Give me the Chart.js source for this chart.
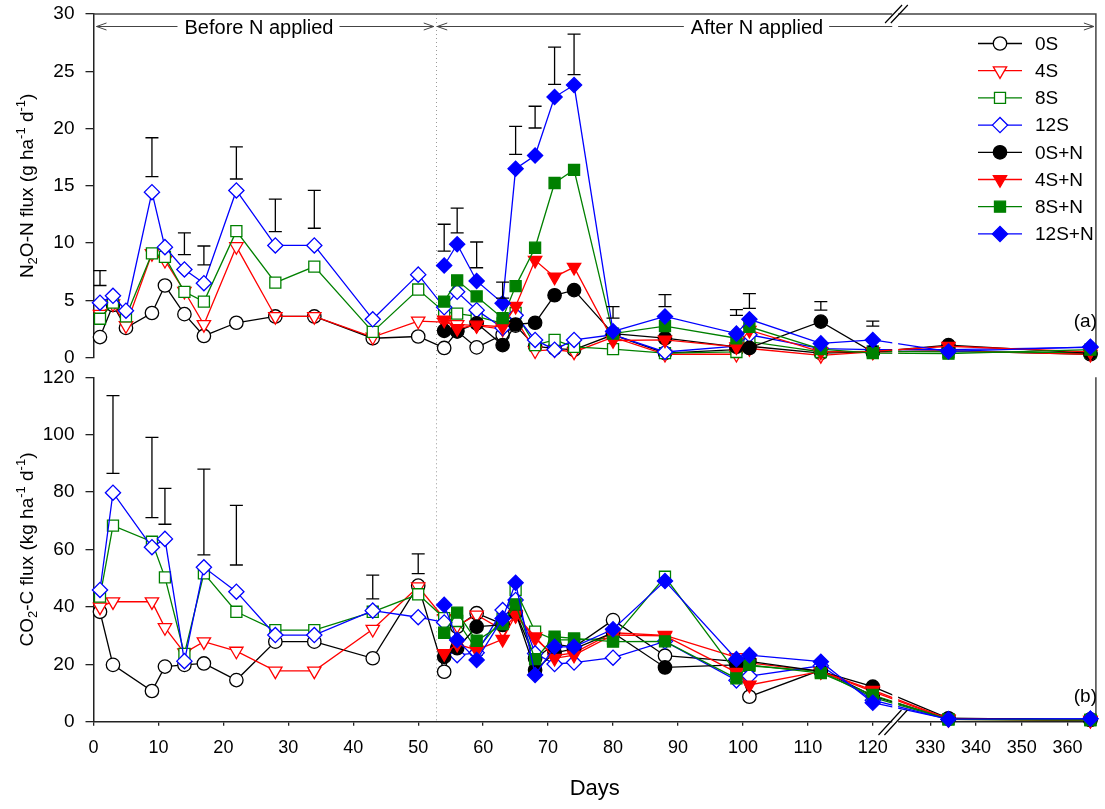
<!DOCTYPE html>
<html>
<head>
<meta charset="utf-8">
<title>N2O and CO2 flux</title>
<script src="https://cdn.jsdelivr.net/npm/chart.js@4.4.0/dist/chart.umd.min.js"></script>
<style>
  html, body { margin: 0; padding: 0; background: #fff; }
  #wrap { position: relative; width: 1105px; height: 809px; }
  #wrap canvas { position: absolute; left: 0; top: 0; }
</style>
</head>
<body>
<div id="wrap">
  <canvas id="n2oChart" width="1105" height="809"></canvas>
  <canvas id="co2Chart" width="1105" height="809"></canvas>
</div>
<script>
/* ---------- data ---------- */
var SERIES = ["0S", "4S", "8S", "12S", "0S+N", "4S+N", "8S+N", "12S+N"];

var N2O_DAYS = [1, 3, 5, 9, 11, 14, 17, 22, 28, 34, 43, 50, 54, 56, 59, 63, 65, 68, 71, 74, 80, 88, 99, 101, 112, 120, 334, 365];
var CO2_DAYS = [1, 3, 9, 11, 14, 17, 22, 28, 34, 43, 50, 54, 56, 59, 63, 65, 68, 71, 74, 80, 88, 99, 101, 112, 120, 334, 365];
var N_DAYS = [54, 56, 59, 63, 65, 68, 71, 74, 80, 88, 99, 101, 112, 120, 334, 365];

// N2O-N flux, g ha-1 d-1
var N2O_0S  = [1.8, 4.6, 2.6, 3.9, 6.3, 3.8, 1.9, 3.05, 3.6, 3.6, 1.7, 1.85, 0.85, 2.3, 0.9, 2.0, 2.8, 1.0, 0.8, 0.7, 2.0, 0.4, 0.7, 1.0, 0.4, 0.5, 0.6, 0.3];
var N2O_4S  = [3.8, 4.7, 2.8, 9.1, 8.5, 5.8, 2.9, 9.7, 3.6, 3.6, 1.8, 3.2, 3.1, 2.9, 2.8, 2.5, 3.4, 0.6, 0.7, 0.5, 1.8, 0.3, 0.3, 0.8, 0.2, 0.5, 0.6, 0.3];
var N2O_8S  = [3.4, 4.8, 3.6, 9.1, 8.8, 5.75, 4.9, 11.05, 6.55, 7.95, 2.25, 5.95, 4.0, 3.85, 3.6, 3.0, 3.9, 1.1, 1.55, 0.95, 0.75, 0.4, 0.5, 1.4, 0.5, 0.55, 0.5, 0.45];
var N2O_12S = [4.8, 5.4, 4.1, 14.45, 9.65, 7.7, 6.5, 14.6, 9.8, 9.8, 3.35, 7.25, 4.4, 5.75, 4.15, 2.6, 3.7, 1.55, 0.7, 1.55, 2.0, 0.5, 1.0, 2.0, 0.8, 0.7, 0.7, 0.9];
var N2O_0SN  = [2.35, 2.3, 3.0, 1.1, 2.9, 3.05, 5.45, 5.9, 2.1, 1.7, 0.95, 0.85, 3.15, 0.5, 1.1, 0.4];
var N2O_4SN  = [3.3, 2.55, 2.85, 2.7, 4.5, 8.5, 7.05, 7.9, 1.5, 1.55, 0.95, 2.4, 0.5, 0.55, 1.0, 0.5];
var N2O_8SN  = [4.9, 6.75, 5.35, 3.45, 6.25, 9.6, 15.25, 16.4, 2.1, 2.75, 1.7, 2.7, 0.75, 0.4, 0.35, 0.7];
var N2O_12SN = [8.05, 9.9, 6.7, 4.75, 16.5, 17.65, 22.75, 23.8, 2.3, 3.6, 2.1, 3.35, 1.25, 1.55, 0.55, 0.95];

var N2O_ERR_DAYS = [1, 9, 14, 17, 22, 28, 34, 54, 56, 59, 63, 65, 68, 71, 74, 80, 88, 99, 101, 112, 120];
var N2O_ERR_LO = [6.3, 15.8, 9.0, 8.1, 15.6, 11.0, 11.3, 9.3, 10.9, 7.85, 5.2, 17.75, 20.05, 23.85, 24.7, 3.45, 4.45, 3.7, 4.3, 4.15, 2.75];
var N2O_ERR_HI = [7.6, 19.2, 10.9, 9.75, 18.4, 13.85, 14.6, 11.65, 13.05, 10.1, 6.6, 20.2, 21.95, 27.1, 28.25, 4.45, 5.5, 4.2, 5.6, 4.9, 3.2];

// CO2-C flux, kg ha-1 d-1
var CO2_0S  = [38.3, 19.8, 10.7, 19.2, 19.8, 20.3, 14.5, 27.9, 27.9, 22.1, 47.4, 17.4, 33.1, 37.8, 34, 38, 22, 27, 26, 35.4, 23.0, 21, 8.7, 18, 9, 1.0, 0.8];
var CO2_4S  = [40, 41.8, 41.8, 32.8, 24, 27.9, 24.6, 17.7, 17.7, 32.2, 47, 36, 33.5, 37.2, 32, 37, 29, 23, 24, 31, 30.1, 22.4, 20.5, 17.5, 10.5, 0.8, 0.5];
var CO2_8S  = [43.6, 68.3, 62.7, 50.3, 23.6, 51.7, 38.3, 31.9, 31.9, 38.3, 44.4, 36.1, 35.1, 25, 36, 45.9, 31.4, 28.5, 28.5, 29, 50.5, 17, 19.5, 17.5, 8.5, 0.8, 0.6];
var CO2_12S = [45.9, 79.8, 60.8, 63.7, 21.1, 53.8, 45.3, 30.2, 30.2, 38.7, 36.4, 34.6, 23.2, 24, 38.9, 42.4, 23.8, 20.1, 20.6, 22.3, 28, 14.4, 15.9, 19.5, 7.5, 0.8, 1.0];
var CO2_0SN  = [22.6, 25.6, 33.1, 33.7, 38, 18, 24, 25.4, 31, 18.9, 19.8, 21, 17.5, 12.2, 1.2, 0.6];
var CO2_4SN  = [23.8, 27, 25, 28.7, 37.2, 29.6, 22.1, 23.2, 30.2, 29.9, 17.2, 12.8, 17.5, 11, 1.0, 0.5];
var CO2_8SN  = [31.0, 38.0, 28.2, 34, 40.9, 21.8, 29.6, 29.0, 27.9, 28, 15.1, 19.8, 16.9, 9.3, 0.8, 0.6];
var CO2_12SN = [40.7, 28.5, 21.5, 36.0, 48.4, 16.3, 26.1, 26.1, 32.2, 49.0, 21.8, 23.2, 20.9, 6.6, 0.9, 1.0];

var CO2_ERR_DAYS = [3, 9, 11, 17, 22, 43, 50];
var CO2_ERR_LO = [86.5, 71.1, 68.8, 58.1, 54.6, 42.8, 51.6];
var CO2_ERR_HI = [113.6, 99.1, 81.3, 88.0, 75.4, 51.1, 58.5];

var X_TICKS = [0, 10, 20, 30, 40, 50, 60, 70, 80, 90, 100, 110, 120, 330, 340, 350, 360];
var N_APPLIED_DAY = 52.7;

/* ---------- broken x axis ---------- */
var BREAK_LEFT_DAY = 123;   // first segment ends
var BREAK_RIGHT_DAY = 323;  // second segment starts
var BREAK_GAP = 0.9;        // blank axis units in the break
var RIGHT_COMPRESS = 0.705; // second segment is drawn narrower
var X_END_DAY = 366.2;

function toAxis(day) {
  if (day <= BREAK_LEFT_DAY) return day;
  return BREAK_LEFT_DAY + BREAK_GAP + (day - BREAK_RIGHT_DAY) * RIGHT_COMPRESS;
}

/* ---------- styles ---------- */
var FONT = '"Liberation Sans", Arial, Helvetica, sans-serif';
Chart.defaults.font.family = FONT;
Chart.defaults.color = "#000";

var STYLES = [
  { color: "#000000", shape: "circle",   rot: 0,   r: 6.7, filled: false },
  { color: "#ff0000", shape: "triangle", rot: 180, r: 7.7, filled: false },
  { color: "#008000", shape: "rect",     rot: 0,   r: 7.8, filled: false },
  { color: "#0000ff", shape: "rectRot",  rot: 0,   r: 7.6, filled: false },
  { color: "#000000", shape: "circle",   rot: 0,   r: 6.7, filled: true },
  { color: "#ff0000", shape: "triangle", rot: 180, r: 7.7, filled: true },
  { color: "#008000", shape: "rect",     rot: 0,   r: 7.8, filled: true },
  { color: "#0000ff", shape: "rectRot",  rot: 0,   r: 7.6, filled: true }
];
var AXIS_COLOR = "#222";

function makeDatasets(openDays, openSets, nSets) {
  var all = openSets.concat(nSets);
  return all.map(function (vals, i) {
    var days = i < 4 ? openDays : N_DAYS;
    var st = STYLES[i];
    return {
      label: SERIES[i],
      data: days.map(function (d, k) { return { x: toAxis(d), y: vals[k] }; }),
      borderColor: st.color,
      borderWidth: 1.3,
      pointStyle: st.shape,
      rotation: st.rot,
      pointRadius: st.r,
      pointBorderWidth: 1.3,
      pointBorderColor: st.color,
      pointBackgroundColor: st.filled ? st.color : "#ffffff",
      tension: 0,
      clip: false,
      order: 7 - i
    };
  });
}

function xScaleOptions(show) {
  return {
    type: "linear",
    display: show,
    min: 0,
    max: toAxis(X_END_DAY),
    afterBuildTicks: function (s) {
      s.ticks = X_TICKS.map(function (d) { return { value: toAxis(d) }; });
    },
    afterFit: function (s) {
      if (show) s.height = 809 - 721.7;
      s.paddingLeft = 0;
      s.paddingRight = 0;
    },
    ticks: {
      autoSkip: false, maxRotation: 0, padding: 12, font: { size: 18 },
      callback: function (v, i) { return X_TICKS[i]; }
    },
    grid: { drawOnChartArea: false, tickLength: 4, color: AXIS_COLOR, lineWidth: 1.3 },
    border: { color: AXIS_COLOR, width: 1.5 },
    title: { display: true, text: "Days", font: { size: 22 }, padding: { top: 0, bottom: 7 } }
  };
}

function yScaleOptions(max, step) {
  return {
    min: 0, max: max,
    ticks: { stepSize: step, padding: 11, font: { size: 19 } },
    grid: { drawOnChartArea: false, tickLength: 8, color: AXIS_COLOR, lineWidth: 1.3 },
    border: { color: AXIS_COLOR, width: 1.5 },
    afterFit: function (s) { s.width = 93.5; s.paddingTop = 0; s.paddingBottom = 0; }
  };
}

/* ---------- drawing helpers ---------- */
function drawErrorBars(chart, days, lo, hi) {
  var ctx = chart.ctx, xs = chart.scales.x, ys = chart.scales.y;
  ctx.save();
  ctx.strokeStyle = "#000";
  ctx.lineWidth = 1.3;
  days.forEach(function (d, i) {
    var x = xs.getPixelForValue(toAxis(d));
    var y0 = ys.getPixelForValue(lo[i]);
    var y1 = ys.getPixelForValue(hi[i]);
    ctx.beginPath();
    ctx.moveTo(x, y0); ctx.lineTo(x, y1);
    ctx.moveTo(x - 6.5, y0); ctx.lineTo(x + 6.5, y0);
    ctx.moveTo(x - 6.5, y1); ctx.lineTo(x + 6.5, y1);
    ctx.stroke();
  });
  ctx.restore();
}

function drawDotted(chart, y0, y1) {
  var ctx = chart.ctx;
  var x = Math.round(chart.scales.x.getPixelForValue(N_APPLIED_DAY)) + 0.5;
  ctx.save();
  ctx.strokeStyle = "#9a9a9a";
  ctx.lineWidth = 1;
  ctx.setLineDash([1, 3]);
  ctx.beginPath(); ctx.moveTo(x, y0); ctx.lineTo(x, y1); ctx.stroke();
  ctx.restore();
}

function breakPixels(chart) {
  var xs = chart.scales.x;
  return [xs.getPixelForValue(toAxis(BREAK_LEFT_DAY)), xs.getPixelForValue(toAxis(BREAK_LEFT_DAY) + BREAK_GAP)];
}

function drawSlashes(ctx, xs, y, hx, hy) {
  ctx.save();
  ctx.strokeStyle = "#000";
  ctx.lineWidth = 1.2;
  ctx.beginPath();
  xs.forEach(function (x) { ctx.moveTo(x - hx, y + hy); ctx.lineTo(x + hx, y - hy); });
  ctx.stroke();
  ctx.restore();
}

function drawVerticalTitle(ctx, parts, baseX, centerY, size) {
  var small = Math.round(size * 0.68);
  ctx.save();
  var widths = parts.map(function (p) {
    ctx.font = (p[1] ? small : size) + "px " + FONT;
    return ctx.measureText(p[0]).width;
  });
  var total = widths.reduce(function (a, b) { return a + b; }, 0);
  ctx.translate(baseX, centerY);
  ctx.rotate(-Math.PI / 2);
  ctx.fillStyle = "#000";
  ctx.textBaseline = "alphabetic";
  ctx.textAlign = "left";
  var x = -total / 2;
  parts.forEach(function (p, i) {
    ctx.font = (p[1] ? small : size) + "px " + FONT;
    var dy = p[1] === "sub" ? size * 0.22 : (p[1] === "sup" ? -size * 0.42 : 0);
    ctx.fillText(p[0], x, dy);
    x += widths[i];
  });
  ctx.restore();
}

function drawArrowSpan(ctx, x0, x1, y, label, cx) {
  ctx.save();
  ctx.font = "20px " + FONT;
  var w = ctx.measureText(label).width;
  ctx.strokeStyle = "#444";
  ctx.lineWidth = 1;
  ctx.beginPath();
  ctx.moveTo(x0, y); ctx.lineTo(cx - w / 2 - 7, y);
  ctx.moveTo(cx + w / 2 + 6, y); ctx.lineTo(x1, y);
  ctx.moveTo(x0 + 10, y - 3.5); ctx.lineTo(x0, y); ctx.lineTo(x0 + 10, y + 3.5);
  ctx.moveTo(x1 - 10, y - 3.5); ctx.lineTo(x1, y); ctx.lineTo(x1 - 10, y + 3.5);
  ctx.stroke();
  ctx.fillStyle = "#000";
  ctx.textAlign = "center";
  ctx.textBaseline = "middle";
  ctx.fillText(label, cx, y + 1.5);
  ctx.restore();
}

function drawLegend(chart) {
  var ctx = chart.ctx;
  ctx.save();
  ctx.font = "19px " + FONT;
  ctx.textBaseline = "middle";
  ctx.textAlign = "left";
  SERIES.forEach(function (name, i) {
    var st = STYLES[i];
    var y = 43.5 + i * 27.2;
    ctx.strokeStyle = st.color;
    ctx.lineWidth = 1.3;
    ctx.beginPath(); ctx.moveTo(978, y); ctx.lineTo(1022, y); ctx.stroke();
    ctx.fillStyle = st.filled ? st.color : "#fff";
    Chart.helpers.drawPoint(ctx, { pointStyle: st.shape, rotation: st.rot, radius: st.r, borderWidth: 1.3 }, 1000, y);
    ctx.fillStyle = "#000";
    ctx.fillText(name, 1035, y + 1);
  });
  ctx.restore();
}

function panelText(ctx, text, x, y) {
  ctx.save();
  ctx.font = "19px " + FONT;
  ctx.fillStyle = "#000";
  ctx.textAlign = "right";
  ctx.textBaseline = "middle";
  ctx.fillText(text, x, y);
  ctx.restore();
}

/* ---------- panel decorations ---------- */
var n2oDecor = {
  id: "n2oDecor",
  beforeDatasetsDraw: function (chart) {
    var ctx = chart.ctx, a = chart.chartArea;
    drawDotted(chart, a.top, a.bottom + 10);
    ctx.save();
    ctx.strokeStyle = "#444";
    ctx.lineWidth = 1.5;
    ctx.beginPath();
    ctx.moveTo(a.left, a.top); ctx.lineTo(a.right, a.top); ctx.lineTo(a.right, a.bottom);
    ctx.stroke();
    ctx.restore();
    var nx = chart.scales.x.getPixelForValue(N_APPLIED_DAY);
    drawArrowSpan(ctx, a.left + 3, nx - 2, a.top + 12.5, "Before N applied", 259);
    drawArrowSpan(ctx, nx + 1.5, a.right - 2, a.top + 12.5, "After N applied", 757);
  },
  afterDatasetsDraw: function (chart) {
    var ctx = chart.ctx, a = chart.chartArea;
    drawErrorBars(chart, N2O_ERR_DAYS, N2O_ERR_LO, N2O_ERR_HI);
    var g = breakPixels(chart);
    ctx.save();
    ctx.fillStyle = "#fff";
    ctx.fillRect(g[0], a.top - 2, g[1] - g[0], a.bottom - a.top + 4);
    ctx.restore();
    drawSlashes(ctx, [g[0] + 1.3, g[1] + 1.2], a.top, 8.5, 9);
    drawLegend(chart);
    panelText(ctx, "(a)", 1097, 322);
    drawVerticalTitle(ctx, [["N"], ["2", "sub"], ["O-N flux (g ha"], ["-1", "sup"], [" d"], ["-1", "sup"], [")"]],
      33, (a.top + a.bottom) / 2, 19);
  }
};

var co2Decor = {
  id: "co2Decor",
  beforeDatasetsDraw: function (chart) {
    var ctx = chart.ctx, a = chart.chartArea;
    drawDotted(chart, a.top - 10, a.bottom);
    ctx.save();
    ctx.strokeStyle = "#444";
    ctx.lineWidth = 1.5;
    ctx.beginPath(); ctx.moveTo(a.right, a.top); ctx.lineTo(a.right, a.bottom); ctx.stroke();
    ctx.restore();
  },
  afterDatasetsDraw: function (chart) {
    var ctx = chart.ctx, a = chart.chartArea;
    drawErrorBars(chart, CO2_ERR_DAYS, CO2_ERR_LO, CO2_ERR_HI);
    var g = breakPixels(chart);
    ctx.save();
    ctx.fillStyle = "#fff";
    ctx.fillRect(g[0], a.top, g[1] - g[0], a.bottom - a.top + 2.5);
    ctx.restore();
    drawSlashes(ctx, [g[0] - 2.3, g[1] - 2.2], a.bottom + 0.8, 11.5, 12.5);
    panelText(ctx, "(b)", 1097, 697);
    drawVerticalTitle(ctx, [["CO"], ["2", "sub"], ["-C flux (kg ha"], ["-1", "sup"], [" d"], ["-1", "sup"], [")"]],
      33, (a.top + a.bottom) / 2, 19);
  }
};

/* ---------- charts ---------- */
function baseOptions(padding, xShow, yMax, yStep) {
  return {
    responsive: false,
    animation: false,
    devicePixelRatio: 1,
    events: [],
    layout: { padding: padding },
    plugins: { legend: { display: false }, tooltip: { enabled: false } },
    scales: { x: xScaleOptions(xShow), y: yScaleOptions(yMax, yStep) }
  };
}

new Chart(document.getElementById("n2oChart"), {
  type: "line",
  data: { datasets: makeDatasets(N2O_DAYS, [N2O_0S, N2O_4S, N2O_8S, N2O_12S], [N2O_0SN, N2O_4SN, N2O_8SN, N2O_12SN]) },
  options: baseOptions({ left: 0, right: 5, top: 14, bottom: 809 - 357.7 }, false, 30, 5),
  plugins: [n2oDecor]
});

new Chart(document.getElementById("co2Chart"), {
  type: "line",
  data: { datasets: makeDatasets(CO2_DAYS, [CO2_0S, CO2_4S, CO2_8S, CO2_12S], [CO2_0SN, CO2_4SN, CO2_8SN, CO2_12SN]) },
  options: baseOptions({ left: 0, right: 5, top: 377.3, bottom: 0 }, true, 120, 20),
  plugins: [co2Decor]
});
</script>
</body>
</html>
